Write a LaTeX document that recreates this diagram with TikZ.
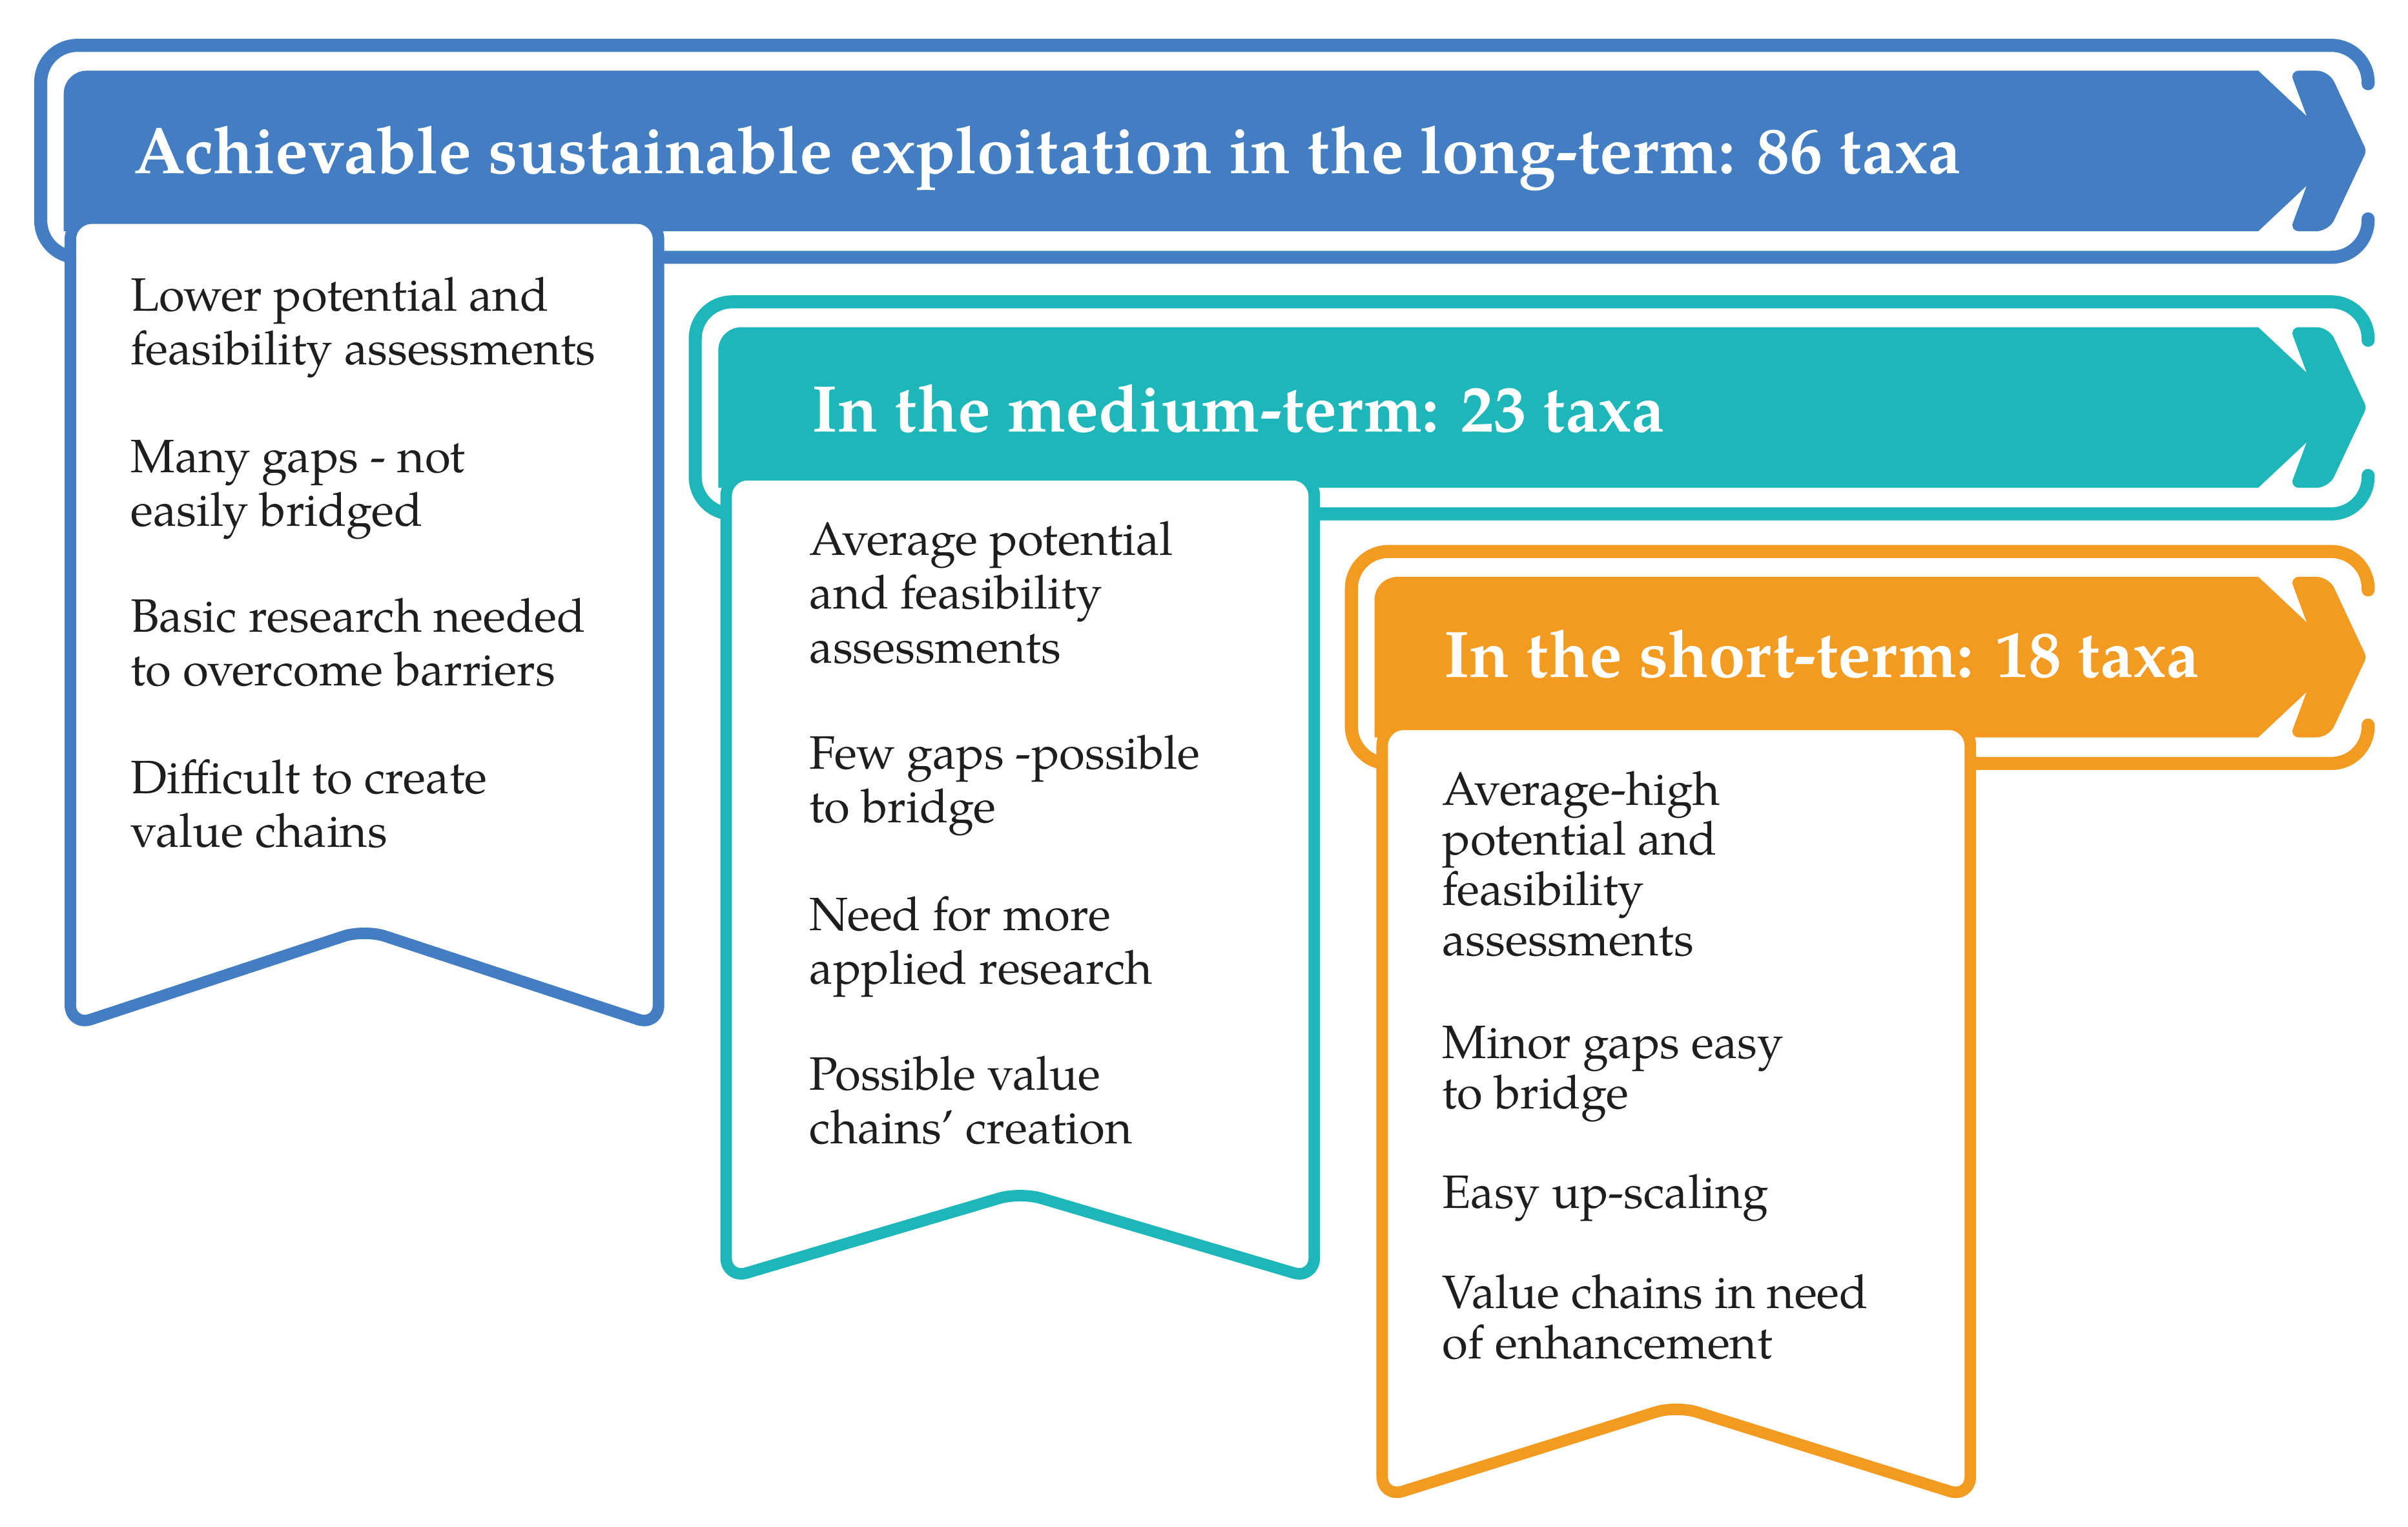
\documentclass[tikz,border=0pt]{standalone}
\usepackage{fontspec}
\setmainfont{texgyrepagella}[Extension=.otf, UprightFont=*-regular, BoldFont=*-bold, ItalicFont=*-italic, BoldItalicFont=*-bolditalic]
\definecolor{cblue}{RGB}{66,126,193}
\definecolor{cteal}{RGB}{30,183,185}
\definecolor{corange}{RGB}{242,155,32}
\definecolor{ctext}{RGB}{30,30,30}
\tikzset{
  outl/.style={line width=8.5pt, line cap=round, line join=round, rounded corners=24pt},
  boxst/.style={fill=white, line width=7.5pt, line join=round, rounded corners=14pt},
  ttl/.style={anchor=base west, inner sep=0pt, text=white, font=\fontsize{42.9}{50}\selectfont\bfseries},
  txt/.style={anchor=base west, inner sep=0pt, text=ctext, font=\fontsize{30.5}{35}\selectfont},
}
% #1 colour, #2 banner left, #3 banner top, #4 box left, #5 box right, #6 box bottom corner y, #7 box apex y
\newcommand{\termgroup}[7]{%
  \pgfmathsetmacro\myBB{#3+104.5}%
  \pgfmathsetmacro\myCC{#3+52.25}%
  \pgfmathsetmacro\myOT{#3-16.5}%
  \pgfmathsetmacro\myOB{#3+121.5}%
  \pgfmathsetmacro\myOL{#2-15}%
  \draw[outl, draw=#1] (1542,{\myOT+25}) -- (1542,\myOT) -- (\myOL,\myOT) -- (\myOL,\myOB) -- (1542,\myOB) -- (1542,{\myOB-25});
  \fill[#1] (#2,\myCC) [rounded corners=15pt] -- (#2,#3) [sharp corners] -- (1470.5,#3) -- (1502,{#3+29.6})
     [rounded corners=6pt] -- (1491,#3) [rounded corners=8pt] -- (1516.5,#3) [rounded corners=3pt] -- (1541,\myCC)
     [rounded corners=8pt] -- (1516.5,\myBB) [rounded corners=6pt] -- (1491,\myBB) [sharp corners] -- (1502,{\myBB-29.6})
     -- (1470.5,\myBB) -- (#2,\myBB) -- cycle;
  \draw[boxst, draw=#1] (#4,{\myBB-8.5}) -- (#4,#6) -- ({(#4+#5)/2},#7) -- (#5,#6) -- (#5,{\myBB-8.5}) -- cycle;
}
\begin{document}
\begin{tikzpicture}[x=1pt, y=-1pt]
\useasboundingbox (0,0) rectangle (1568,994);
\fill[white] (0,0) rectangle (1568,994);

% long term (blue)
\termgroup{cblue}{41.5}{46}{45.8}{428.8}{668}{605}
\node[ttl] (tlong) at (87,112.75) {Achievable sustainable exploitation in the long-term: 86 taxa};
\node[txt] (l1) at (85,202.5) {Lower potential and};
\node[txt] (l2) at (85,237.5) {feasibility assessments};
\node[txt] (l3) at (85,307.5) {Many gaps - not};
\node[txt] (l4) at (85,342.5) {easily bridged};
\node[txt] (l5) at (85,411.5) {Basic research needed};
\node[txt] (l6) at (85,446.5) {to overcome barriers};
\node[txt] (l7) at (85,516.5) {Difficult to create};
\node[txt] (l8) at (85,551.5) {value chains};

% medium term (teal)
\termgroup{cteal}{467.7}{213}{472.8}{855.8}{832.6}{776}
\node[ttl] (tmed) at (528.6,281) {In the medium-term: 23 taxa};
\node[txt] (m1) at (527,361.5) {Average potential};
\node[txt] (m2) at (527,396.5) {and feasibility};
\node[txt] (m3) at (527,431.5) {assessments};
\node[txt] (m4) at (527,500.5) {Few gaps -possible};
\node[txt] (m5) at (527,535.5) {to bridge};
\node[txt] (m6) at (527,605.5) {Need for more};
\node[txt] (m7) at (527,640.5) {applied research};
\node[txt] (m8) at (527,709.5) {Possible value};
\node[txt] (m9) at (527,744.5) {chains’ creation};

% short term (orange)
\termgroup{corange}{895}{375.5}{900}{1283}{975}{915}
\node[ttl] (tshort) at (940,440.7) {In the short-term: 18 taxa};
\node[txt] (s1) at (939,524) {Average-high};
\node[txt] (s2) at (939,556.7) {potential and};
\node[txt] (s3) at (939,589.4) {feasibility};
\node[txt] (s4) at (939,622.1) {assessments};
\node[txt] (s5) at (939,689) {Minor gaps easy};
\node[txt] (s6) at (939,721.7) {to bridge};
\node[txt] (s7) at (939,786.7) {Easy up-scaling};
\node[txt] (s8) at (939,851.7) {Value chains in need};
\node[txt] (s9) at (939,884.4) {of enhancement};
\end{tikzpicture}
\end{document}
